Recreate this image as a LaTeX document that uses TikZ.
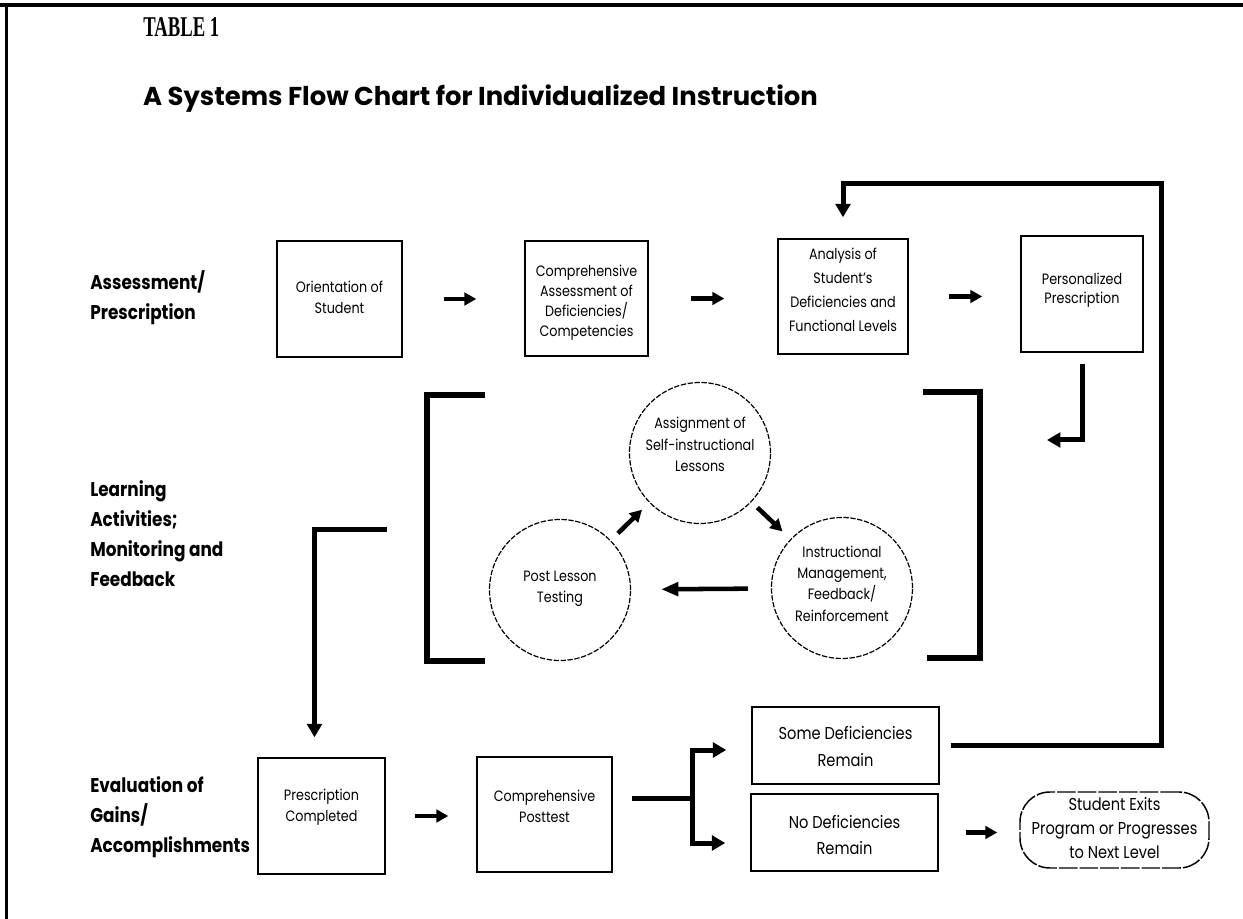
\documentclass[tikz,border=0pt]{standalone}
\usepackage{fontspec}
\setmainfont{Poppins}[FakeStretch=0.85]
\newfontfamily\titlefont{Poppins}
\newfontfamily\tabfont{Liberation Serif}
\usetikzlibrary{arrows.meta}
\newlength\pxu
\setlength\pxu{0.75pt}
\begin{document}
\begin{tikzpicture}[x=0.75pt,y=-0.75pt,
  box/.style={draw, line width=1.1pt, inner sep=0pt},
  circ/.style={circle, draw, line width=0.9pt, dash pattern=on 4pt off 1.2pt, inner sep=0pt, minimum size=141\pxu},
  btext/.style={align=center, inner sep=0pt, font=\fontsize{11.25}{16}\selectfont},
  lbl/.style={align=left, anchor=west, inner sep=0pt, font=\bfseries\fontsize{14.9}{22.5}\selectfont},
  conn/.style={line width=3.75pt, line join=miter},
  brk/.style={line width=4.5pt, line join=miter},
  arr/.style={line width=3.4pt, -{Triangle[length=9pt,width=9.5pt]}},
  bigtip/.style={-{Triangle[length=10pt,width=11pt]}}
]
\useasboundingbox (0,0) rectangle (1243,919);
% page frame
\draw[line width=3pt] (0,5.5) -- (1243,5.5);
\draw[line width=2.25pt] (6.5,4) -- (6.5,919);

% headings
\node[anchor=west, inner sep=0pt] (tab) at (143,27) {\resizebox{57pt}{\height}{\tabfont\bfseries\fontsize{21.5}{24}\selectfont TABLE 1}};
\node[inner sep=0pt] (title) at (480.5,99) {\resizebox{506pt}{!}{\titlefont\bfseries A Systems Flow Chart for Individualized Instruction}};

% row labels
\node[lbl] (lab1) at (90,298) {Assessment/\\Prescription};
\node[lbl] (lab2) at (90,534) {Learning\\Activities;\\Monitoring and\\Feedback};
\node[lbl] (lab3) at (90,817) {Evaluation of\\Gains/\\Accomplishments};

% top row boxes
\node[box, minimum width=125\pxu, minimum height=116\pxu] (orient) at (339.5,299) {};
\node[btext, font=\fontsize{11.25}{15.75}\selectfont] (orientT) at (339.5,297.5) {Orientation of\\Student};
\node[box, minimum width=123\pxu, minimum height=115\pxu] (compA) at (586.5,298.5) {};
\node[btext, font=\fontsize{11.25}{15}\selectfont] (compAT) at (586.5,302.5) {Comprehensive\\Assessment of\\Deficiencies/\\Competencies};
\node[box, minimum width=130\pxu, minimum height=115\pxu] (anal) at (843,296.5) {};
\node[btext, font=\fontsize{11.25}{18}\selectfont] (analT) at (843,289.5) {Analysis of\\Student’s\\Deficiencies and\\Functional Levels};
\node[box, minimum width=122\pxu, minimum height=116\pxu] (pers) at (1082,294) {};
\node[btext, font=\fontsize{11.25}{14.5}\selectfont] (persT) at (1082,290) {Personalized\\Prescription};

% middle circles
\node[circ] (assign) at (700,453) {};
\node[btext] (assignT) at (700,444.5) {Assignment of\\Self-instructional\\Lessons};
\node[circ] (instr) at (842,588) {};
\node[btext] (instrT) at (842,583.5) {Instructional\\Management,\\Feedback/\\Reinforcement};
\node[circ] (postl) at (560,590) {};
\node[btext] (postlT) at (560,589) {Post Lesson\\Testing};

% brackets
\draw[brk] (485,395) -- (427,395) -- (427,661) -- (485,661);
\draw[brk] (923,392) -- (980,392) -- (980,658) -- (927,658);

% bottom row boxes
\node[box, minimum width=127\pxu, minimum height=116\pxu] (presc) at (321.5,816) {};
\node[btext, font=\fontsize{11.25}{15.75}\selectfont] (prescT) at (321.5,807.5) {Prescription\\Completed};
\node[box, minimum width=135\pxu, minimum height=115\pxu] (post) at (544.5,814.5) {};
\node[btext, font=\fontsize{11.25}{15.75}\selectfont] (postT) at (544.5,806.5) {Comprehensive\\Posttest};
\node[box, minimum width=187\pxu, minimum height=77\pxu] (some) at (845.5,745.5) {};
\node[btext, font=\fontsize{12.9}{20}\selectfont] (someT) at (845.5,746.5) {Some Deficiencies\\Remain};
\node[box, minimum width=187\pxu, minimum height=77\pxu] (nodef) at (844.5,832.5) {};
\node[btext, font=\fontsize{12.9}{20}\selectfont] (nodefT) at (844.5,835) {No Deficiencies\\Remain};
\node[draw, line width=1.1pt, dash pattern=on 14pt off 1.5pt, rounded corners=30\pxu, inner sep=0pt,
      minimum width=189\pxu, minimum height=76\pxu] (exits) at (1114.5,830) {};
\node[btext, font=\fontsize{12.9}{18}\selectfont] (exitsT) at (1114.5,828.5) {Student Exits\\Program or Progresses\\to Next Level};

% helper coordinates
\coordinate (fbc) at (1161,184);
\coordinate (persend) at (1047,440);
\coordinate (lstart) at (387,530);
\coordinate (bstart) at (632,798);
\coordinate (bjoin) at (692,798);
\coordinate (bt) at (692,750);
\coordinate (bb) at (692,843);

% short arrows
\draw[arr, shorten <=41\pxu, shorten >=48\pxu] (orient.east) -- (orient.east -| compA.west);
\draw[arr, shorten <=42\pxu, shorten >=53\pxu] (compA.east) -- (compA.east -| anal.west);
\draw[arr, shorten <=40\pxu, shorten >=38\pxu] (anal.east) -- (anal.east -| pers.west);
\draw[arr, shorten <=29\pxu, shorten >=28\pxu] (presc.east) -- (presc.east -| post.west);
\draw[arr, shorten <=27\pxu, shorten >=22\pxu] (nodef.east) -- (nodef.east -| exits.west);
\draw[arr, shorten <=10\pxu, shorten >=10\pxu] (postl) -- (assign);
\draw[arr, shorten <=8\pxu, shorten >=11\pxu] (assign) -- (instr);
\draw[arr, -{Triangle[length=13pt,width=10pt]}, shorten <=23\pxu, shorten >=30\pxu] (instr) -- (postl);

% long connectors
\draw[conn, bigtip, shorten <=11\pxu, shorten >=21\pxu] (some.east) -| (fbc) -| (anal.north);
\draw[conn, bigtip, shorten <=11\pxu] (pers.south) |- (persend);
\draw[conn, bigtip, shorten >=20\pxu] (lstart) -| ([xshift=-7\pxu]presc.north);
\draw[conn] (bstart) -- (bjoin);
\draw[conn, bigtip, shorten >=25\pxu] (bjoin) |- (some.west |- bt);
\draw[conn, bigtip, shorten >=25\pxu] (bjoin) |- (nodef.west |- bb);
\end{tikzpicture}
\end{document}
